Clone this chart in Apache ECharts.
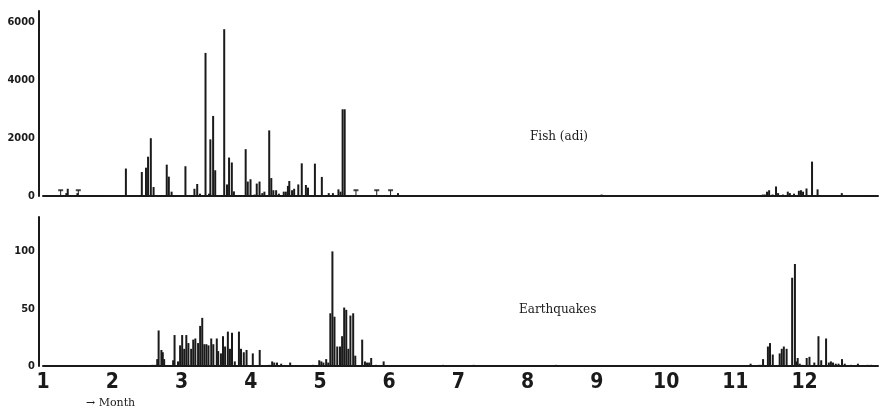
<!DOCTYPE html>
<html>
<head>
<meta charset="utf-8">
<script src="https://cdn.jsdelivr.net/npm/echarts@6/dist/echarts.min.js"></script>
<style>
  html, body { margin: 0; padding: 0; background: #fff; }
  #chart { width: 881px; height: 413px; }
</style>
</head>
<body>
<div id="chart"></div>
<script type="text/javascript">
// month position (1 = start of January), value
var fishData = [
  [1.33, 100], [1.35, 250], [1.49, 100], [1.75, 30],
  [2.19, 950], [2.33, 30], [2.42, 830], [2.48, 980], [2.51, 1360], [2.55, 2000], [2.59, 310],
  [2.78, 1085], [2.81, 670], [2.85, 150], [3.05, 1030], [3.18, 250], [3.22, 415], [3.26, 80],
  [3.34, 4950], [3.39, 80], [3.41, 1960], [3.45, 2770], [3.48, 890],
  [3.61, 5770], [3.65, 400], [3.68, 1330], [3.72, 1160], [3.75, 160],
  [3.92, 1620], [3.95, 500], [3.99, 580], [4.05, 50], [4.08, 430], [4.12, 500], [4.16, 100], [4.19, 150],
  [4.26, 2270], [4.29, 620], [4.32, 200], [4.36, 200], [4.40, 80], [4.47, 150], [4.50, 150],
  [4.53, 350], [4.55, 520], [4.59, 200], [4.62, 250], [4.68, 400], [4.73, 1130], [4.79, 380], [4.82, 290],
  [4.92, 1120], [5.02, 660], [5.12, 100], [5.18, 100], [5.26, 230], [5.29, 150], [5.32, 3000], [5.35, 3000],
  [6.12, 100], [9.06, 50],
  [11.39, 50], [11.42, 50], [11.45, 150], [11.48, 200], [11.53, 50], [11.58, 330], [11.61, 100],
  [11.68, 50], [11.75, 150], [11.78, 100], [11.84, 80], [11.91, 180], [11.94, 200], [11.97, 150],
  [12.02, 260], [12.10, 1190], [12.18, 230], [12.38, 30], [12.44, 30], [12.53, 100], [12.98, 30]
];
// small capped marks in the fish row
var fishPins = [[1.255, 200], [1.51, 200], [5.52, 200], [5.82, 200], [6.02, 200]];

var quakeData = [
  [2.58, 1], [2.62, 1], [2.65, 6], [2.67, 31], [2.71, 14], [2.73, 12], [2.75, 6],
  [2.88, 5], [2.90, 27], [2.95, 4], [2.98, 18], [3.01, 27], [3.04, 15], [3.07, 27], [3.10, 20],
  [3.14, 15], [3.17, 23], [3.20, 24], [3.24, 20], [3.27, 35], [3.30, 42], [3.33, 19], [3.36, 19],
  [3.39, 18], [3.43, 24], [3.46, 19], [3.51, 24], [3.53, 13], [3.57, 11], [3.60, 26], [3.63, 17],
  [3.67, 30], [3.70, 15], [3.73, 29], [3.77, 4], [3.83, 30], [3.86, 15], [3.90, 12], [3.94, 14],
  [4.03, 11], [4.13, 14], [4.27, 1], [4.31, 4], [4.34, 3], [4.38, 3], [4.44, 2], [4.57, 3],
  [4.90, 1], [4.99, 5], [5.02, 4], [5.05, 3], [5.09, 6], [5.12, 3], [5.15, 46], [5.18, 100],
  [5.21, 43], [5.25, 17], [5.29, 17], [5.32, 26], [5.35, 51], [5.38, 49], [5.41, 15], [5.44, 44],
  [5.48, 46], [5.51, 9], [5.61, 23], [5.65, 4], [5.68, 3], [5.71, 3], [5.74, 7], [5.81, 1], [5.92, 4],
  [6.78, 1], [7.22, 1], [8.41, 1],
  [11.22, 2], [11.34, 1], [11.37, 1], [11.40, 6], [11.47, 17], [11.50, 20], [11.54, 10],
  [11.64, 11], [11.67, 15], [11.70, 17], [11.74, 15], [11.82, 77], [11.86, 89], [11.88, 4],
  [11.90, 7], [11.93, 2], [11.97, 1], [12.03, 7], [12.07, 8], [12.14, 3], [12.20, 26], [12.24, 5],
  [12.31, 24], [12.35, 3], [12.38, 4], [12.41, 3], [12.45, 2], [12.49, 2], [12.54, 6], [12.58, 2],
  [12.67, 1], [12.77, 2], [12.91, 1], [12.96, 1]
];

var fishTicks = [0, 2000, 4000, 6000];
var quakeTicks = [0, 50, 100];
var monthLabels = ['1', '2', '3', '4', '5', '6', '7', '8', '9', '10', '11', '12'];

var ink = '#1a1a1a';
var tickFont = { fontFamily: 'DejaVu Sans Condensed', fontWeight: 'bold', color: ink };

function xAxisFor(gridIndex, showLabels) {
  return {
    type: 'value', gridIndex: gridIndex, min: 1, max: 13.06, interval: 1,
    axisLine: { show: true, onZero: false, lineStyle: { color: ink, width: 2 } },
    axisTick: { show: false },
    splitLine: { show: false },
    axisLabel: {
      show: showLabels, margin: 6, fontSize: 21, showMaxLabel: false,
      fontFamily: 'DejaVu Sans Condensed', fontWeight: 'bold', color: ink,
      formatter: function (v) {
        var i = Math.round(v);
        return (Math.abs(v - i) < 1e-6 && i >= 1 && i <= 12) ? monthLabels[i - 1] : '';
      }
    }
  };
}

function yAxisFor(gridIndex, max, step, ticks) {
  return {
    type: 'value', gridIndex: gridIndex, min: 0, max: max, interval: step, offset: 4,
    axisLine: { show: true, lineStyle: { color: ink, width: 2 } },
    axisTick: { show: false },
    splitLine: { show: false },
    axisLabel: Object.assign({
      fontSize: 11, margin: 4, showMaxLabel: false,
      formatter: function (v) { return ticks.indexOf(v) >= 0 ? String(v) : ''; }
    }, tickFont)
  };
}

var chart = echarts.init(document.getElementById('chart'), null, { renderer: 'canvas' });
chart.setOption({
  backgroundColor: '#fff',
  animation: false,
  grid: [
    { left: 43, right: 3, top: 11, height: 185 },
    { left: 43, right: 3, top: 217, height: 149 }
  ],
  xAxis: [xAxisFor(0, false), xAxisFor(1, true)],
  yAxis: [yAxisFor(0, 6400, 2000, fishTicks), yAxisFor(1, 130, 50, quakeTicks)],
  series: [
    {
      name: 'Fish (adi)', type: 'bar', xAxisIndex: 0, yAxisIndex: 0,
      barWidth: 2, itemStyle: { color: ink }, data: fishData
    },
    {
      name: 'Fish pins', type: 'bar', xAxisIndex: 0, yAxisIndex: 0,
      barWidth: 1, barGap: '-100%', itemStyle: { color: ink }, data: fishPins
    },
    {
      name: 'Fish pin heads', type: 'scatter', xAxisIndex: 0, yAxisIndex: 0,
      symbol: 'rect', symbolSize: [5, 2], itemStyle: { color: ink }, data: fishPins
    },
    {
      name: 'Earthquakes', type: 'bar', xAxisIndex: 1, yAxisIndex: 1,
      barWidth: 2, itemStyle: { color: ink }, data: quakeData
    }
  ],
  graphic: [
    { type: 'text', left: 530, top: 131, style: { text: 'Fish (adi)', fontFamily: 'DejaVu Serif', fontSize: 12, fill: ink } },
    { type: 'text', left: 519, top: 304, style: { text: 'Earthquakes', fontFamily: 'DejaVu Serif', fontSize: 12, fill: ink } },
    { type: 'text', left: 86, top: 398, style: { text: '\u2192 Month', fontFamily: 'DejaVu Serif', fontSize: 11, fill: ink } }
  ]
});
</script>
</body>
</html>
